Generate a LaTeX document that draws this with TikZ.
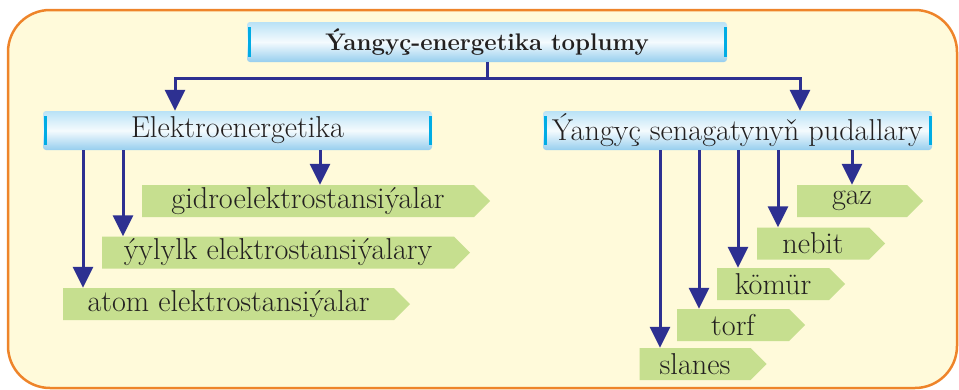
\documentclass[tikz,border=0pt]{standalone}
\usepackage{fontspec}
\usepackage{tikz}
\usetikzlibrary{arrows.meta,shapes.symbols}
\definecolor{frameorange}{RGB}{238,132,42}
\definecolor{framefill}{RGB}{255,250,218}
\definecolor{barblue}{RGB}{0,172,228}
\definecolor{boxtop}{RGB}{185,226,246}
\definecolor{boxbot}{RGB}{150,206,238}
\definecolor{leafgreen}{RGB}{198,223,143}
\definecolor{arrowblue}{RGB}{45,48,145}
\definecolor{inkgray}{RGB}{35,32,32}
\newcommand{\bigtext}[0]{\rmfamily\fontsize{30.2}{31}\selectfont}
\newcommand{\toptext}[0]{\rmfamily\fontsize{24}{26}\selectfont\bfseries}

\begin{document}
\begin{tikzpicture}[x=1pt,y=-1pt]
\tikzstyle{head}=[rounded corners=3pt,inner sep=0pt,minimum height=39pt,top color=boxtop,bottom color=boxbot,middle color=white!85!boxtop,text=inkgray,font=\bigtext,
  path picture={
    \draw[barblue,line width=3pt] ([xshift=2pt,yshift=-5pt]path picture bounding box.north west) -- ([xshift=2pt,yshift=5pt]path picture bounding box.south west);
    \draw[barblue,line width=3pt] ([xshift=-2pt,yshift=-5pt]path picture bounding box.north east) -- ([xshift=-2pt,yshift=5pt]path picture bounding box.south east);
  }]
\tikzstyle{leaf}=[signal,signal to=east,signal pointer angle=90,fill=leafgreen,inner sep=0pt,minimum height=32pt,text=inkgray,font=\bigtext]
\tikzstyle{link}=[arrowblue,line width=3pt]
\tikzstyle{arr}=[link,-{Triangle[width=20pt,length=21pt]}]

\useasboundingbox (0,0) rectangle (959,389);
\draw[frameorange,line width=2.5pt,fill=framefill,rounded corners=42pt] (8,10) rectangle (957,388);

\node[head,minimum width=480pt,minimum height=40pt,font=\toptext] (title) at (487,42) {Ýangyç-energetika toplumy};
\node[head,minimum width=389pt] (elektro) at (237.5,130.5) {Elektroenergetika};
\node[head,minimum width=389pt] (yangyc) at (737.5,130.5) {Ýangyç senagatynyň pudallary};

% elektroenergetika
\node[leaf,minimum width=348pt] (gidro) at (308,201) {gidroelektrostansiýalar};
\node[leaf,minimum width=368pt] (ylylyk) at (278,252.5) {ýylylk elektrostansiýalary};
\node[leaf,minimum width=347pt] (atom) at (228.5,304) {atom elektrostansiýalar};

% ýangyç senagaty
\node[leaf,minimum width=126pt] (gaz) at (852,201) {gaz};
\node[leaf,minimum width=128pt] (nebit) at (813,243.5) {nebit};
\node[leaf,minimum width=128pt] (komur) at (773,284) {kömür};
\node[leaf,minimum width=128pt] (torf) at (733,325) {torf};
\node[leaf,minimum width=127pt] (slanes) at (695,364) {slanes};

\draw[link] (title.south) -- (487,78) coordinate (split);
\draw[arr] (split) -| (175,0 |- elektro.north);
\draw[arr] (split) -| (800,0 |- yangyc.north);

\draw[arr] (83,0 |- elektro.south) -- (83,0 |- atom.north);
\draw[arr] (123,0 |- elektro.south) -- (123,0 |- ylylyk.north);
\draw[arr] (320,0 |- elektro.south) -- (320,0 |- gidro.north);

\draw[arr] (660,0 |- yangyc.south) -- (660,0 |- slanes.north);
\draw[arr] (699,0 |- yangyc.south) -- (699,0 |- torf.north);
\draw[arr] (738,0 |- yangyc.south) -- (738,0 |- komur.north);
\draw[arr] (778,0 |- yangyc.south) -- (778,0 |- nebit.north);
\draw[arr] (852,0 |- yangyc.south) -- (852,0 |- gaz.north);
\end{tikzpicture}
\end{document}
